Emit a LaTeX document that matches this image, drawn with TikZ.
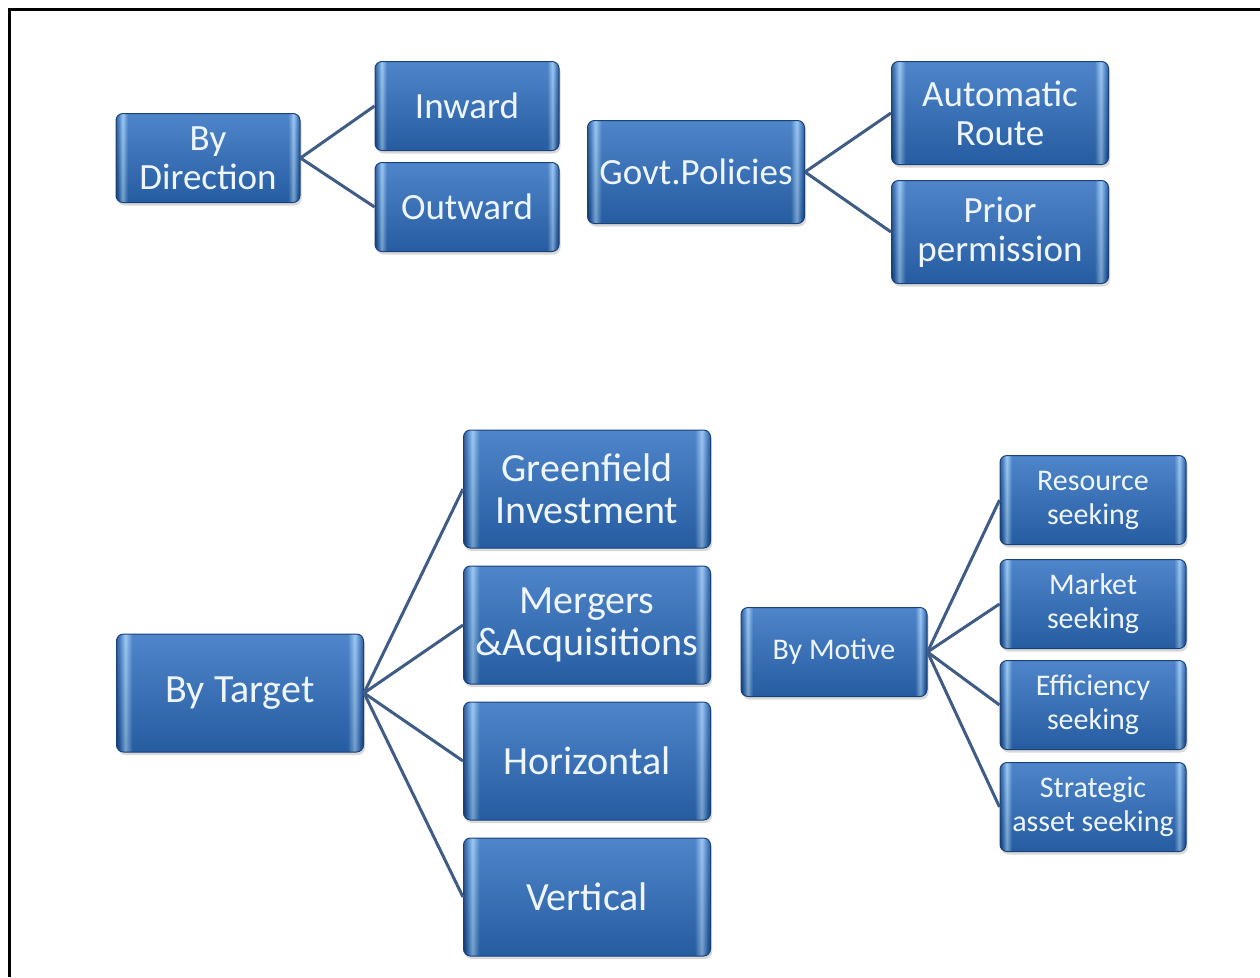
\documentclass[tikz,border=0pt]{standalone}
\usepackage{fontspec}
\setmainfont{Carlito}
\usepackage{tikz}
\usetikzlibrary{shadows}
\definecolor{boxblue}{RGB}{46,110,192}
\definecolor{boxlight}{RGB}{140,192,240}
\definecolor{boxedge}{RGB}{26,66,122}
\definecolor{linkcol}{RGB}{62,92,134}
\definecolor{labelcol}{RGB}{238,246,252}
% the middle 50bp are spread over the box
\pgfdeclarehorizontalshading{bevel}{100bp}{color(0bp)=(boxedge); color(25bp)=(boxedge);
  color(25.7bp)=(boxblue); color(26.8bp)=(boxlight); color(28.2bp)=(boxblue);
  color(71.8bp)=(boxblue); color(73.2bp)=(boxlight); color(74.3bp)=(boxblue);
  color(75bp)=(boxedge); color(100bp)=(boxedge)}
\tikzset{
  catbox/.style={rounded corners=7pt,shading=bevel,draw=boxedge,line width=1pt,
    text=labelcol,align=center,inner sep=0pt,
    drop shadow={opacity=0.3,shadow xshift=1.5pt,shadow yshift=-3pt},
    path picture={\shade[top color=white,middle color=white,bottom color=black,fill opacity=0.16]
      (path picture bounding box.south west) rectangle (path picture bounding box.north east);}},
  smallbox/.style={catbox,minimum width=184pt,minimum height=89pt,font=\fontsize{37}{39}\selectfont},
  govbox/.style={catbox,minimum width=217pt,minimum height=103pt,font=\fontsize{37}{39}\selectfont},
  tgtbox/.style={catbox,minimum width=247pt,minimum height=118pt,font=\fontsize{40}{42}\selectfont},
  motbox/.style={catbox,minimum width=186pt,minimum height=89pt,font=\fontsize{30}{34}\selectfont},
  link/.style={draw=linkcol,line width=3pt}
}

\begin{document}
\begin{tikzpicture}[x=1pt,y=-1pt]
  \useasboundingbox (0,0) rectangle (1260,977);
  % frame, open to the right and bottom
  \draw[line width=3pt] (9.5,977) -- (9.5,9.5) -- (1260,9.5);

  % direction
  \node[smallbox] (dir) at (208,158) {By\\Direction};
  \node[smallbox] (inw) at (467,106) {Inward};
  \node[smallbox] (outw) at (467,207) {Outward};
  % policies
  \node[govbox] (gov) at (696,172) {Govt.Policies};
  \node[govbox] (auto) at (1000,113) {Automatic\\Route};
  \node[govbox] (prior) at (1000,232) {Prior\\permission};
  % target
  \node[tgtbox] (tgt) at (240,693) {By Target};
  \node[tgtbox] (green) at (587,489) {Greenfield\\Investment};
  \node[tgtbox] (merge) at (587,625) {Mergers\\\&Acquisitions};
  \node[tgtbox] (horiz) at (587,761) {Horizontal};
  \node[tgtbox] (vert) at (587,897) {Vertical};
  % motive
  \node[motbox] (mot) at (834,652) {By Motive};
  \node[motbox] (res) at (1093,500) {Resource\\seeking};
  \node[motbox] (mkt) at (1093,604) {Market\\seeking};
  \node[motbox] (eff) at (1093,705) {Efficiency\\seeking};
  \node[motbox] (strat) at (1093,807) {Strategic\\asset seeking};

  \foreach \a/\b in {dir/inw,dir/outw,gov/auto,gov/prior,tgt/green,tgt/merge,tgt/horiz,tgt/vert,
                     mot/res,mot/mkt,mot/eff,mot/strat}
    \draw[link] (\a.east) -- (\b.west);
\end{tikzpicture}
\end{document}
